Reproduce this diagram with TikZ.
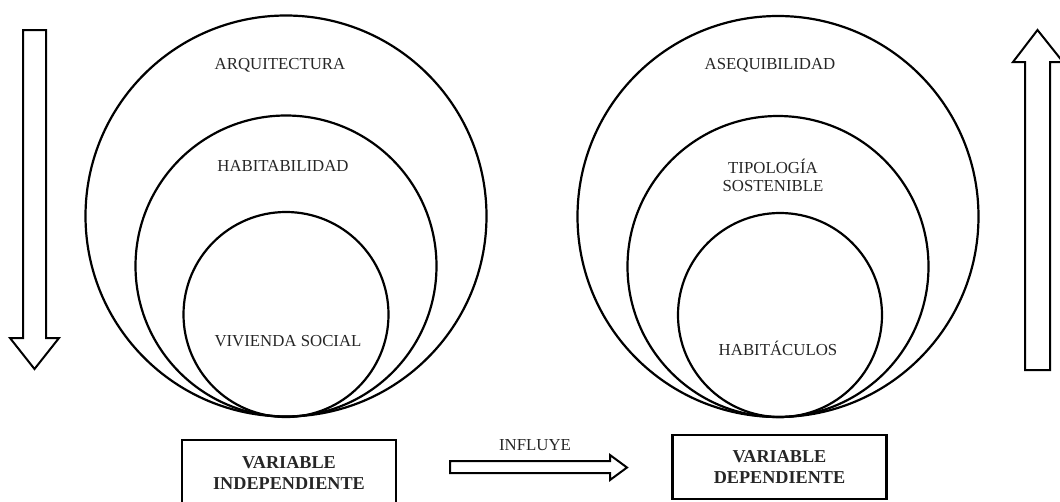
\documentclass[tikz,border=0pt]{standalone}
\usepackage{fontspec}
\setmainfont{Liberation Serif}
\tikzset{
  ring/.style={draw, circle, inner sep=0pt, line width=2.2pt},
  lbl/.style={font=\fontsize{16.8}{18}\selectfont, text=black!85},
  varbox/.style={draw, line width=2.2pt, minimum width=214pt, align=center,
    font=\bfseries\fontsize{18.2}{21}\selectfont, text=black!85},
  blockarrow/.style={draw, line width=2pt, line join=miter}
}
\begin{document}
\begin{tikzpicture}[x=1pt, y=-1pt]
   \useasboundingbox (0,0) rectangle (1060,501);
   % independent side
   \node[ring, minimum size=401pt] (arq) at (286,216) {};
   \node[ring, minimum size=301pt] (hab) at (286,266) {};
   \node[ring, minimum size=205pt] (viv) at (286,314.5) {};
   \node[lbl] (arqtxt) at (280,65) {ARQUITECTURA};
   \node[lbl] (habtxt) at (283,166) {HABITABILIDAD};
   \node[lbl] (vivtxt) at (288,341) {VIVIENDA SOCIAL};
   \node[varbox, minimum height=66pt] (indep) at (289,473) {VARIABLE\\INDEPENDIENTE};
   % dependent side
   \node[ring, minimum size=401pt] (ase) at (778,216.5) {};
   \node[ring, minimum size=301pt] (tip) at (778,266.5) {};
   \node[ring, minimum size=204pt] (hbc) at (780,315) {};
   \node[lbl] (asetxt) at (770,65) {ASEQUIBILIDAD};
   \node[lbl, align=center] (tiptxt) at (773,175) {TIPOLOGÍA\\SOSTENIBLE};
   \node[lbl] (hbctxt) at (778,348) {HABITÁCULOS};
   \node[varbox, minimum height=64pt] (dep) at (779.5,467) {VARIABLE\\DEPENDIENTE};
   % block arrows
   \draw[blockarrow] (23,30) -- (46,30) -- (46,338) -- (59,338) -- (34.5,369)
       -- (10,338) -- (23,338) -- cycle;
   \draw[blockarrow] (1025,370) -- (1050,370) -- (1050,62) -- (1063,62) -- (1037.5,30)
       -- (1013,62) -- (1025,62) -- cycle;
   \draw[blockarrow] (450,461) -- (610,461) -- (610,455) -- (627,467.5) -- (610,480)
       -- (610,473) -- (450,473) -- cycle;
   \node[lbl] (influye) at (535,445) {INFLUYE};
\end{tikzpicture}
\end{document}
